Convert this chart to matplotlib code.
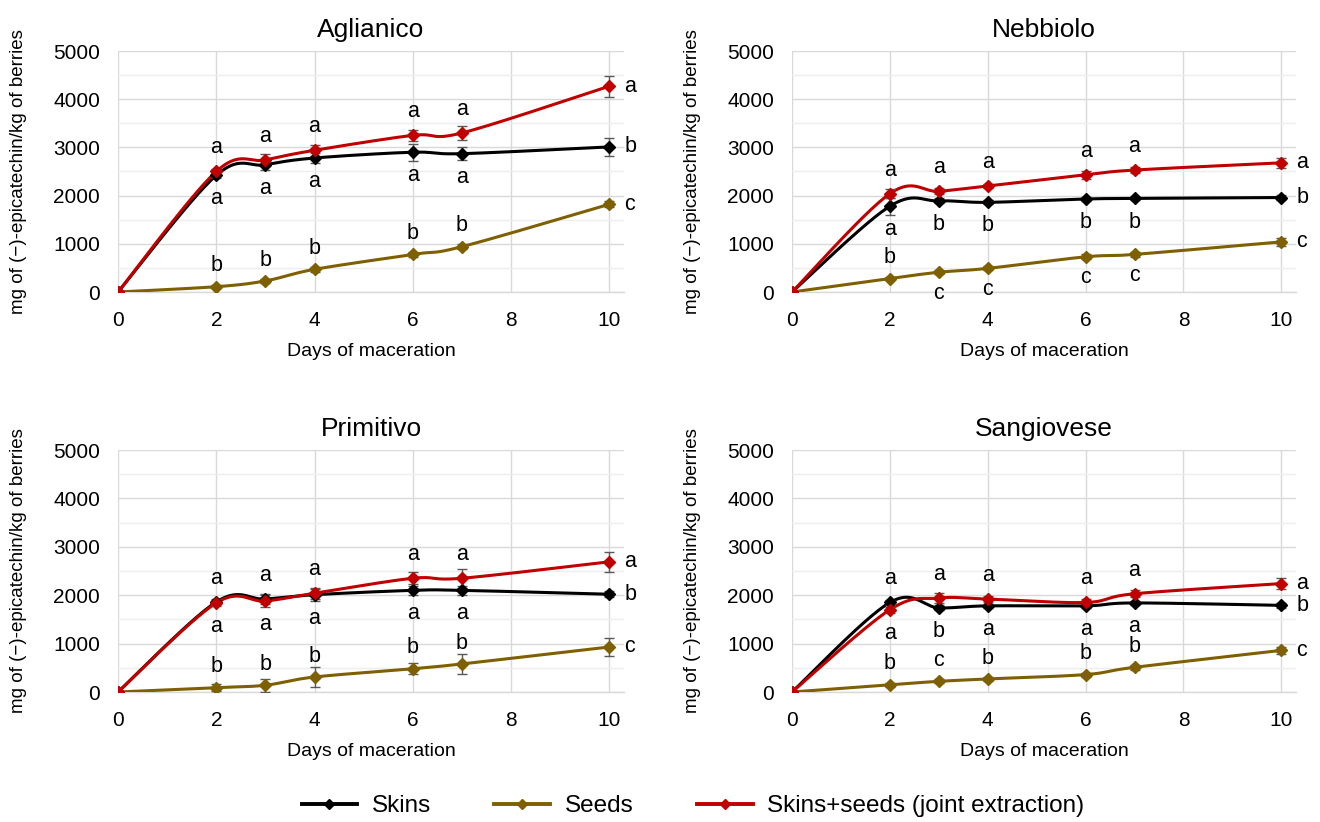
# -*- coding: utf-8 -*-
"""
Epicatechin extraction during maceration: skins, seeds and joint
extraction, four grape varieties.
"""

import numpy as np
import matplotlib
matplotlib.use("Agg")
import matplotlib.pyplot as plt
from matplotlib.lines import Line2D


plt.rcParams["font.family"] = ["Liberation Sans", "DejaVu Sans"]

# ---- data ----
days = [0, 2, 3, 4, 6, 7, 10]

varieties = ["Aglianico", "Nebbiolo", "Primitivo", "Sangiovese"]

skins = [[0, 2420, 2640, 2780, 2900, 2870, 3010],
         [0, 1780, 1890, 1860, 1930, 1940, 1960],
         [0, 1860, 1920, 2010, 2100, 2100, 2020],
         [0, 1850, 1740, 1780, 1780, 1840, 1790]]

skins_err = [[0, 60, 100, 110, 180, 130, 190],
             [0, 180, 50, 40, 50, 40, 50],
             [0, 60, 100, 120, 100, 100, 60],
             [0, 50, 50, 40, 50, 40, 50]]

seeds = [[0, 110, 230, 470, 780, 940, 1820],
         [0, 280, 410, 490, 730, 780, 1040],
         [0, 90, 140, 310, 480, 580, 930],
         [0, 150, 220, 270, 360, 510, 860]]

seeds_err = [[0, 30, 40, 50, 50, 50, 60],
             [0, 40, 40, 40, 50, 50, 90],
             [0, 70, 130, 200, 110, 210, 190],
             [0, 40, 40, 40, 40, 50, 70]]

joint = [[0, 2500, 2740, 2940, 3250, 3300, 4270],
         [0, 2040, 2090, 2200, 2430, 2530, 2680],
         [0, 1840, 1880, 2040, 2350, 2350, 2690],
         [0, 1700, 1940, 1920, 1850, 2030, 2240]]

joint_err = [[0, 60, 120, 110, 110, 150, 220],
             [0, 100, 60, 50, 90, 60, 110],
             [0, 70, 130, 110, 120, 200, 210],
             [0, 60, 100, 60, 70, 70, 110]]

# significance letters at days 2, 3, 4, 6, 7
top_letters = [["a", "a", "a", "a", "a"],
               ["a", "a", "a", "a", "a"],
               ["a", "a", "a", "a", "a"],
               ["a", "a", "a", "a", "a"]]

mid_letters = [["a", "a", "a", "a", "a"],
               ["a", "b", "b", "b", "b"],
               ["a", "a", "a", "a", "a"],
               ["a", "b", "a", "a", "a"]]

seed_letters = [["b", "b", "b", "b", "b"],
                ["b", "c", "c", "c", "c"],
                ["b", "b", "b", "b", "b"],
                ["b", "c", "b", "b", "b"]]

# 1: letter above the seeds point, -1: below
seed_side = [[1, 1, 1, 1, 1],
             [1, -1, -1, -1, -1],
             [1, 1, 1, 1, 1],
             [1, 1, 1, 1, 1]]

# letters at day 10: joint, skins, seeds
end_letters = [["a", "b", "c"],
               ["a", "b", "c"],
               ["a", "b", "c"],
               ["a", "b", "c"]]

series_names = ["Skins", "Seeds", "Skins+seeds (joint extraction)"]
series_colors = ["#000000", "#7F6000", "#C00000"]


# ----------
def smooth_line(ax, x, y, n_pts=30):
    # catmull-rom like smoothing computed in display space
    pts = ax.transData.transform(np.column_stack((x, y)))
    out = [pts[0]]
    n = len(pts)
    for i in range(n - 1):
        p0 = pts[max(i - 1, 0)]
        p1 = pts[i]
        p2 = pts[i + 1]
        p3 = pts[min(i + 2, n - 1)]
        c1 = p1 + (p2 - p0) / 6.0
        c2 = p2 - (p3 - p1) / 6.0
        t = np.linspace(0, 1, n_pts)[1:, None]
        seg = ((1 - t) ** 3) * p1 + 3 * ((1 - t) ** 2) * t * c1 \
            + 3 * (1 - t) * (t ** 2) * c2 + (t ** 3) * p2
        out.extend(seg)
    out = np.array(out)
    return ax.transData.inverted().transform(out)


# ----------
def plot_panel(ax, k):
    ax.set_xlim(0, 10.3)
    ax.set_ylim(0, 5000)

    ax.set_yticks(np.arange(0, 5001, 1000))
    ax.set_yticks(np.arange(500, 5000, 1000), minor=True)
    ax.set_xticks(np.arange(0, 11, 2))

    ax.grid(which="major", axis="both", color="#D9D9D9", linewidth=1.0)
    ax.grid(which="minor", axis="y", color="#EEEEEE", linewidth=1.0)
    ax.set_axisbelow(True)

    for the_side in ["top", "right", "left"]:
        ax.spines[the_side].set_visible(False)
    ax.spines["bottom"].set_color("#D9D9D9")
    ax.spines["bottom"].set_linewidth(1.0)

    ax.tick_params(axis="both", which="both", length=0, labelsize=15)
    ax.tick_params(axis="y", pad=13)
    ax.tick_params(axis="x", pad=14)

    ax.set_title(varieties[k], fontsize=19, pad=10)
    ax.set_xlabel("Days of maceration", fontsize=14, labelpad=9)
    ax.set_ylabel("mg of (\u2212)-epicatechin/kg of berries", fontsize=13.5,
                  labelpad=19)

    data = [skins[k], seeds[k], joint[k]]
    errs = [skins_err[k], seeds_err[k], joint_err[k]]

    for the_index in range(3):
        the_color = series_colors[the_index]
        xy = smooth_line(ax, days, data[the_index])
        ax.plot(xy[:, 0], xy[:, 1], color=the_color, linewidth=2.2,
                solid_capstyle="round", zorder=3)
        ax.errorbar(days, data[the_index], yerr=errs[the_index], fmt="none",
                    ecolor="#595959", elinewidth=1.0, capsize=3.5,
                    capthick=1.0, zorder=4)
        ax.plot(days, data[the_index], linestyle="none", marker="D",
                markersize=6, color=the_color, zorder=5)

    # significance letters
    for j in range(5):
        d = days[j + 1]
        hi = max(skins[k][j + 1], joint[k][j + 1])
        lo = min(skins[k][j + 1], joint[k][j + 1])
        ax.annotate(top_letters[k][j], (d, hi), xytext=(0, 17),
                    textcoords="offset points", ha="center", va="center",
                    fontsize=15.5)
        ax.annotate(mid_letters[k][j], (d, lo), xytext=(0, -17),
                    textcoords="offset points", ha="center", va="center",
                    fontsize=15.5)
        ax.annotate(seed_letters[k][j], (d, seeds[k][j + 1]),
                    xytext=(0, 15 * seed_side[k][j]),
                    textcoords="offset points", ha="center", va="center",
                    fontsize=15.5)

    end_vals = [joint[k][-1], skins[k][-1], seeds[k][-1]]
    for the_index in range(3):
        ax.annotate(end_letters[k][the_index], (days[-1], end_vals[the_index]),
                    xytext=(11, 0), textcoords="offset points", ha="left",
                    va="center", fontsize=15.5, annotation_clip=False)


# ----------
def main():
    W, H = 1320.0, 822.0
    fig = plt.figure(figsize=(W / 100, H / 100), dpi=100)

    boxes = [(118, 51, 624, 292), (792, 51, 1296, 292),
             (118, 450, 624, 692), (792, 450, 1296, 692)]

    for k in range(4):
        l, t, r, b = boxes[k]
        ax = fig.add_axes([l / W, 1 - b / H, (r - l) / W, (b - t) / H])
        plot_panel(ax, k)

    handles = [Line2D([], [], color=series_colors[i], linewidth=2.8,
                      marker="D", markersize=5) for i in range(3)]
    fig.legend(handles, series_names, loc="center", ncol=3,
               bbox_to_anchor=(693 / W, 1 - 806 / H), frameon=False,
               fontsize=17.5, handlelength=2.3, handletextpad=0.6,
               columnspacing=2.6)

    fig.savefig("out.png", dpi=100)


# ----------
if __name__ == "__main__":
    main()
